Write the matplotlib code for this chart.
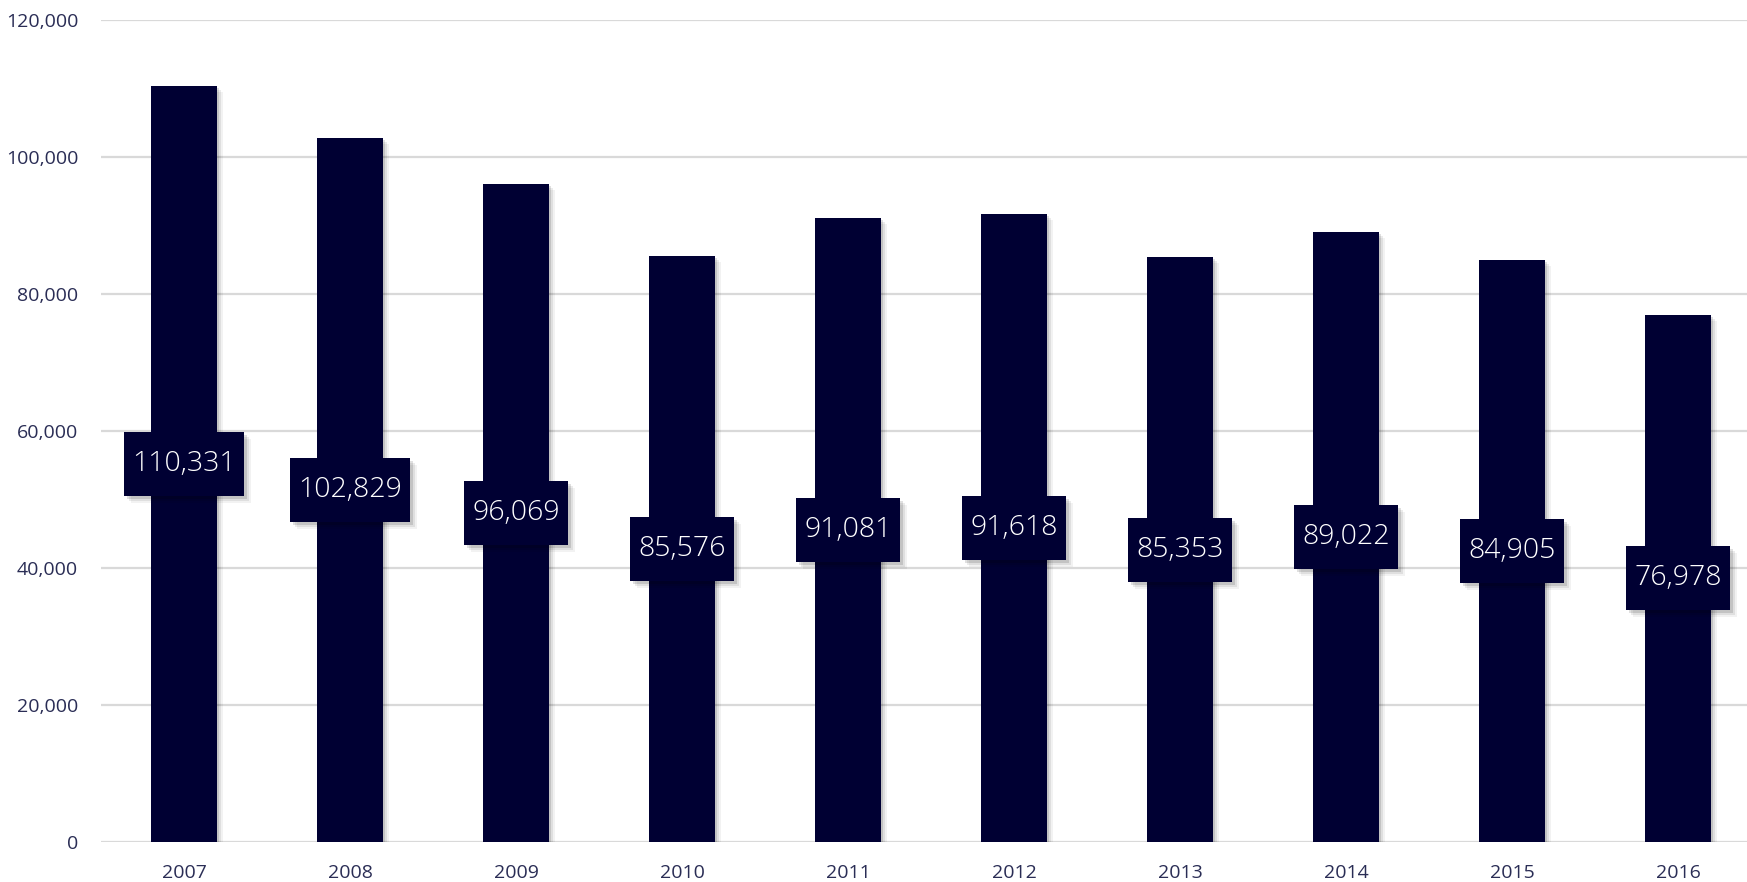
import matplotlib
matplotlib.use("Agg")
import matplotlib.pyplot as plt
from matplotlib.patches import Rectangle
from matplotlib.ticker import FuncFormatter

years = ["2007", "2008", "2009", "2010", "2011", "2012", "2013", "2014", "2015", "2016"]
values = [110331, 102829, 96069, 85576, 91081, 91618, 85353, 89022, 84905, 76978]
yticks = [0, 20000, 40000, 60000, 80000, 100000, 120000]

W, H, DPI = 1747, 882, 100
BAR = "#000033"
TXT = "#2a2d55"
plt.rcParams['font.family'] = ['Open Sans', 'DejaVu Sans']

fig = plt.figure(figsize=(W / DPI, H / DPI), dpi=DPI)
ax = fig.add_axes([101 / W, 40 / H, (W - 101) / W, (842 - 20) / H])
ax.set_xlim(-0.5, 9.416)
ax.set_ylim(0, 120000)
x = list(range(len(years)))

# shadows for bars (soft, offset right/down)
for i, v in zip(x, values):
    for k, a in [(6, 0.05), (4, 0.08), (2, 0.12)]:
        dx = k / 166
        dy = k / 822 * 120000
        ax.add_patch(Rectangle((i - 0.2 + dx, -dy), 0.4, v, facecolor="#000000",
                               alpha=a, edgecolor="none", zorder=1.5))
ax.bar(x, values, width=0.4, color=BAR, zorder=2)

ax.set_yticks(yticks)
ax.yaxis.set_major_formatter(FuncFormatter(lambda v, p: f"{int(v):,}"))
ax.grid(axis="y", color="#d9d9d9", linewidth=1.6, zorder=0)
ax.set_axisbelow(True)
for s in ax.spines.values():
    s.set_visible(False)
ax.tick_params(axis="both", length=0, labelsize=14, labelcolor=TXT)
ax.tick_params(axis="y", pad=16.5)
ax.tick_params(axis="x", pad=16)
ax.set_xticks(x)
ax.set_xticklabels(years)

texts = []
for i, v in zip(x, values):
    t = ax.text(i, v / 2, f"{v:,}", ha="center", va="center", color="white",
                fontsize=20.5, fontweight="light", zorder=5)
    texts.append(t)

fig.canvas.draw()
r = fig.canvas.get_renderer()
inv = ax.transData.inverted()
for t, i, v in zip(texts, x, values):
    bb = t.get_window_extent(r)
    cx, cy = ax.transData.transform((i, v / 2))
    w = bb.width + 16
    h = 64
    (x0, y0) = inv.transform((cx - w / 2, cy - h / 2))
    (x1, y1) = inv.transform((cx + w / 2, cy + h / 2))
    for k, a in [(7, 0.05), (5, 0.08), (3, 0.12)]:
        (sx0, sy0) = inv.transform((cx - w / 2 + k, cy - h / 2 - k))
        ax.add_patch(Rectangle((sx0, sy0), x1 - x0, y1 - y0, facecolor="#000000",
                               alpha=a, edgecolor="none", zorder=3))
    ax.add_patch(Rectangle((x0, y0), x1 - x0, y1 - y0, facecolor=BAR,
                           edgecolor="none", zorder=4))

fig.savefig("out.png", dpi=DPI)
